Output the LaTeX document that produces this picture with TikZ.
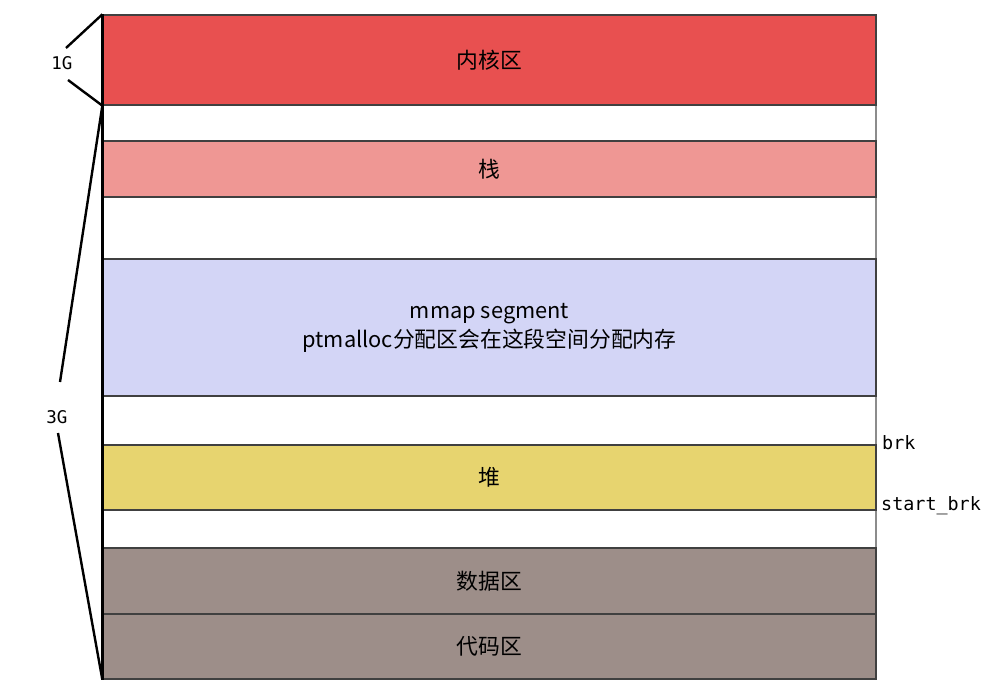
\documentclass[tikz,border=0pt]{standalone}
\usepackage{fontspec}
\setmainfont{Noto Sans CJK SC}
\newfontfamily\ptrfont{DejaVu Sans Mono}
\usetikzlibrary{positioning}
\definecolor{kernelRed}{HTML}{E85050}
\definecolor{stackPink}{HTML}{EF9794}
\definecolor{mmapBlue}{HTML}{D3D5F6}
\definecolor{heapYellow}{HTML}{E7D46F}
\definecolor{dataBrown}{HTML}{9D8E89}
\newcommand{\seg}[5]{\node[seg,fill=#2,minimum height=#4] (#1) at (489.5,#3) {#5}}

\begin{document}
\begin{tikzpicture}[x=1pt,y=-1pt,
    seg/.style={draw=black!75,line width=1.3pt,minimum width=773pt,inner sep=0pt,
      align=center,font=\fontsize{21.8}{29}\selectfont},
    ptr/.style={anchor=west,inner sep=0pt,font=\ptrfont\fontsize{18.4}{20}\selectfont},
    size/.style={inner sep=0pt,font=\ptrfont\fontsize{17.5}{20}\selectfont},
    brace/.style={line width=2.4pt}]
    \useasboundingbox (0,0) rectangle (993,692);
    \draw [black!45, line width=1.3pt] (103,15) rectangle (876,679);
    \seg{kernel}{kernelRed}{60}{90pt}{内核区};
    \seg{stack}{stackPink}{169}{56pt}{栈};
    \seg{mmap}{mmapBlue}{327.5}{137pt}{mmap segment\\ptmalloc分配区会在这段空间分配内存};
    \seg{heap}{heapYellow}{477.5}{65pt}{堆};
    \seg{data}{dataBrown}{581}{66pt}{数据区};
    \seg{code}{dataBrown}{646.5}{65pt}{代码区};
    \node[ptr] (brk) at (882,443) {brk};
    \node[ptr] (startbrk) at (881,506) {start\_brk};
    % sizes on the left
    \node[size] (g1) at (62,63) {1G};
    \node[size] (g3) at (57,417) {3G};
    \coordinate (g1top) at (66,48);
    \coordinate (g1bot) at (68,80);
    \coordinate (g3top) at (60,382);
    \coordinate (g3bot) at (58,433);
    \draw [line width=3pt] (kernel.north west) -- (code.south west);
    \draw [brace] (kernel.north west) -- (g1top);
    \draw [brace] (g1bot) -- (kernel.south west);
    \draw [brace] (kernel.south west) -- (g3top);
    \draw [brace] (g3bot) -- (code.south west);
\end{tikzpicture}
\end{document}
